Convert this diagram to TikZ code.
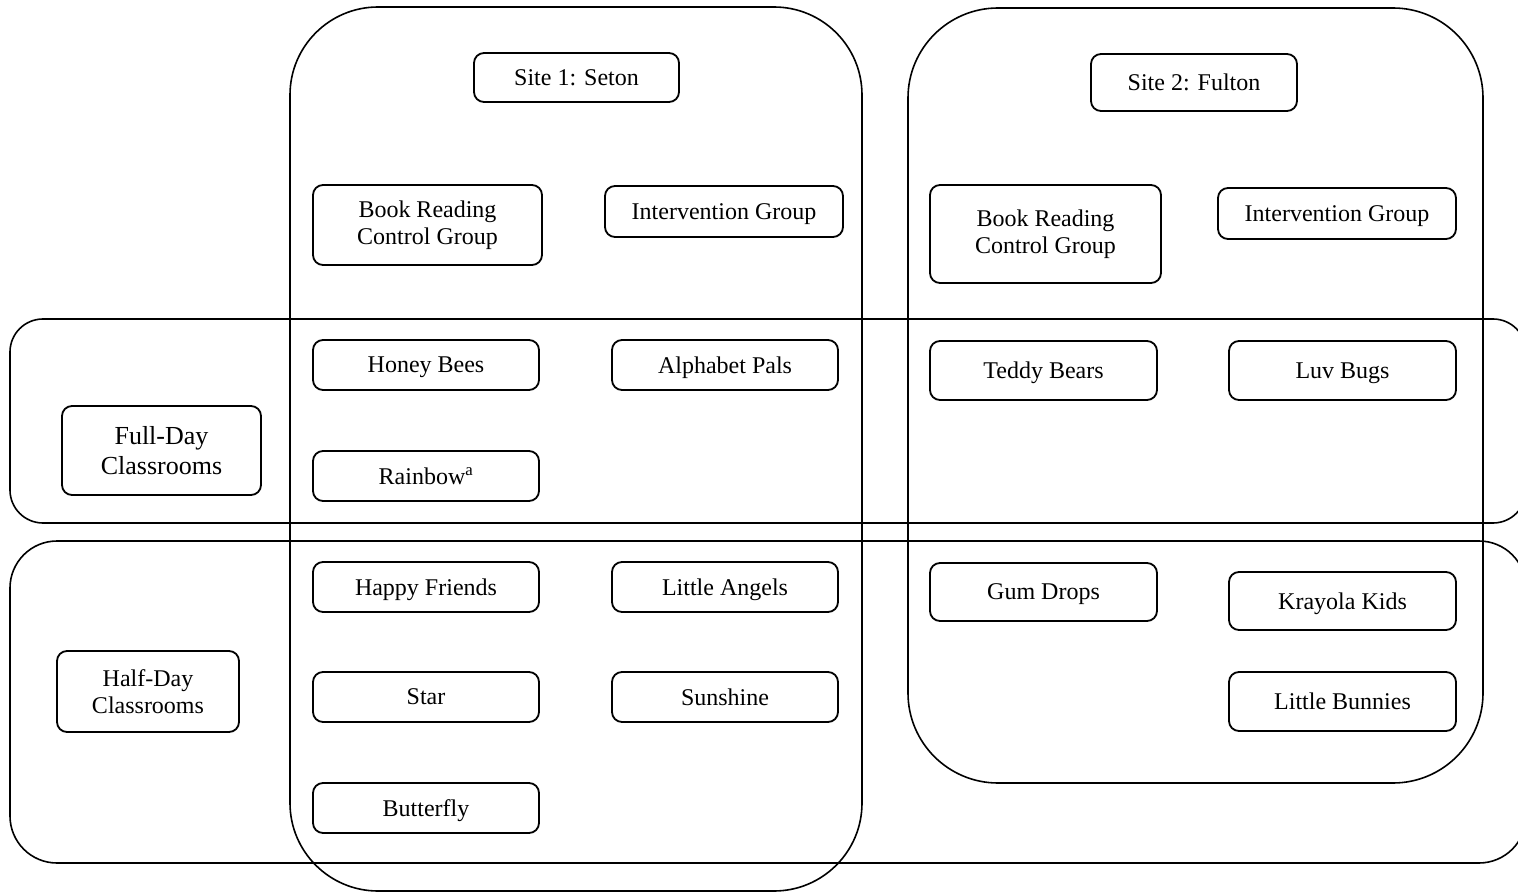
\documentclass[tikz,border=0pt]{standalone}
\usepackage{fontspec}
\setmainfont{Liberation Serif}
\begin{document}
\begin{tikzpicture}[x=1pt,y=-1pt,
  container/.style={draw,line width=1.6pt,inner sep=0pt,rounded corners=#1},
  box/.style={draw,line width=1.8pt,rounded corners=10pt,inner sep=0pt,align=center,
    minimum width=226pt,minimum height=50pt,font=\fontsize{24}{27}\selectfont},
  oneline/.style={text depth=0pt},
  bigtext/.style={font=\fontsize{26}{30}\selectfont}]
\useasboundingbox (0,0) rectangle (1518,893);
\clip (0,0) rectangle (1518,893);
% containers
\node[container=88pt,minimum width=572pt,minimum height=884pt] (site1) at (576,449) {};
\node[container=90pt,minimum width=575pt,minimum height=775pt] (site2) at (1195.5,395.5) {};
\node[container=33pt,minimum width=1516pt,minimum height=204pt] (fullband) at (768,421) {};
\node[container=47pt,minimum width=1516pt,minimum height=322pt] (halfband) at (768,702) {};
% site headers
\node[box,oneline,minimum width=205pt,minimum height=49pt] (s1) at (576.5,77.5) {Site 1: Seton};
\node[box,oneline,minimum width=206pt,minimum height=57pt] (s2) at (1194,82.5) {Site 2: Fulton};
% groups
\node[box,minimum width=229pt,minimum height=80pt] (brc1) at (427.5,225) {Book Reading\\Control Group};
\node[box,oneline,minimum width=238pt,minimum height=51pt] (ig1) at (724,211.5) {Intervention Group};
\node[box,minimum width=231pt,minimum height=98pt] (brc2) at (1045.5,234) {Book Reading\\Control Group};
\node[box,oneline,minimum width=238pt,minimum height=51pt] (ig2) at (1337,213.5) {Intervention Group};
% row labels
\node[box,bigtext,minimum width=199pt,minimum height=89pt] (full) at (161.5,450.5) {Full-Day\\Classrooms};
\node[box,minimum width=182pt,minimum height=81pt] (half) at (148,691.5) {Half-Day\\Classrooms};
% full-day classrooms
\node[box,oneline] (honey) at (426,365) {Honey Bees};
\node[box,oneline] (alpha) at (725,365) {Alphabet Pals};
\node[box,oneline] (rain) at (426,476) {Rainbow\textsuperscript{a}};
\node[box,oneline,minimum width=227pt,minimum height=59pt] (teddy) at (1043.5,370.5) {Teddy Bears};
\node[box,oneline,minimum width=227pt,minimum height=59pt] (luv) at (1342.5,370.5) {Luv Bugs};
% half-day classrooms
\node[box,oneline] (happy) at (426,587) {Happy Friends};
\node[box,oneline] (angels) at (725,587) {Little Angels};
\node[box,oneline] (star) at (426,697) {Star};
\node[box,oneline] (sun) at (725,697) {Sunshine};
\node[box,oneline] (butter) at (426,808) {Butterfly};
\node[box,oneline,minimum width=227pt,minimum height=58pt] (gum) at (1043.5,592) {Gum Drops};
\node[box,oneline,minimum width=227pt,minimum height=58pt] (kray) at (1342.5,601) {Krayola Kids};
\node[box,oneline,minimum width=227pt,minimum height=59pt] (bunny) at (1342.5,701.5) {Little Bunnies};
\end{tikzpicture}
\end{document}
